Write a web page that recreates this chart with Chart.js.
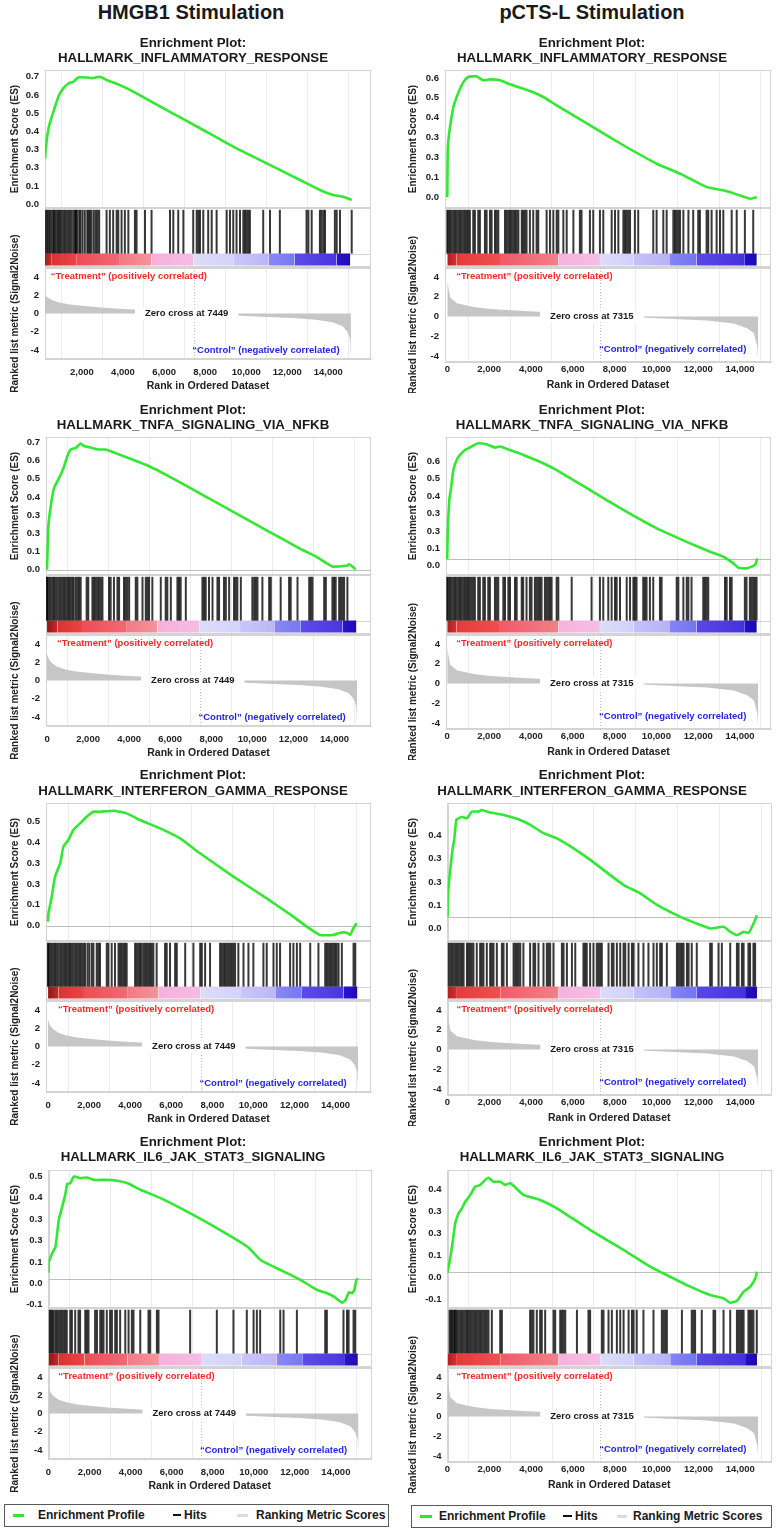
<!DOCTYPE html>
<html>
<head>
<meta charset="utf-8">
<title>GSEA enrichment plots</title>
<script src="https://cdn.jsdelivr.net/npm/chart.js@4.4.1/dist/chart.umd.min.js"></script>
<style>
  html,body{margin:0;padding:0;background:#fff;}
  #page{position:relative;width:782px;height:1530px;overflow:hidden;
        font-family:"Liberation Sans",Arial,sans-serif;color:#1a1a1a;}
  #page canvas{position:absolute;}
  .hdr{position:absolute;top:0;font-weight:bold;font-size:20px;line-height:24px;
       transform:translateX(-50%);white-space:nowrap;}
  .ttl{position:absolute;font-weight:bold;font-size:13.3px;line-height:15.6px;
       text-align:center;transform:translateX(-50%);white-space:nowrap;}
  .lg{position:absolute;height:21px;border:1px solid #5a5a5a;background:#fff;}
  .lg span{position:absolute;top:0;line-height:21px;font-weight:bold;font-size:12px;white-space:nowrap;}
  .lg i{position:absolute;top:9px;height:3px;}
</style>
</head>
<body>
<div id="page">
  <div class="lg" style="left:4px;top:1504px;width:383px;">
    <i style="left:8px;width:11px;background:#2ee82e"></i><span style="left:33px">Enrichment Profile</span>
    <i style="left:168px;width:8px;height:2px;background:#111"></i><span style="left:179px">Hits</span>
    <i style="left:232px;width:11px;background:#dcdcdc"></i><span style="left:251px">Ranking Metric Scores</span>
  </div>
  <div class="lg" style="left:411px;top:1505px;width:359px;">
    <i style="left:8px;width:12px;background:#2ee82e"></i><span style="left:27px">Enrichment Profile</span>
    <i style="left:151px;width:9px;height:2px;background:#111"></i><span style="left:163px">Hits</span>
    <i style="left:205px;width:10px;background:#dcdcdc"></i><span style="left:221px">Ranking Metric Scores</span>
  </div>
</div>
<script>
// ---------------- data ----------------
const columnNames = ['HMGB1 Stimulation', 'pCTS-L Stimulation'];
const geneSets = ['HALLMARK_INFLAMMATORY_RESPONSE', 'HALLMARK_TNFA_SIGNALING_VIA_NFKB',
                  'HALLMARK_INTERFERON_GAMMA_RESPONSE', 'HALLMARK_IL6_JAK_STAT3_SIGNALING'];
const zeroCross = [7449, 7315];

const xTicksFull = [0, 2000, 4000, 6000, 8000, 10000, 12000, 14000];
const xTicksNoZero = [2000, 4000, 6000, 8000, 10000, 12000, 14000];
const rankTicks = [-4, -2, 0, 2, 4];

// ES axis tick texts (bottom to top) as printed in the figure
const esTicksH = [
  ['0.0','0.1','0.3','0.3','0.4','0.5','0.6','0.7'],
  ['0.0','0.1','0.3','0.3','0.4','0.5','0.6','0.7'],
  ['0.0','0.1','0.3','0.3','0.4','0.5'],
  ['-0.1','0.0','0.1','0.3','0.3','0.4','0.5']
];
const esTicksP = [
  ['0.0','0.1','0.3','0.3','0.4','0.5','0.6'],
  ['0.0','0.1','0.3','0.3','0.4','0.5','0.6'],
  ['0.0','0.1','0.3','0.3','0.4'],
  ['-0.1','0.0','0.1','0.3','0.3','0.4']
];
const esTickStart = [[0, 0, 0, -0.1], [0, 0, 0, -0.1]];
const esTickShift = [[0, 0, 0, -0.019], [0, -0.037, -0.049, -0.023]];
const esRange = [
  [[-0.021, 0.737], [-0.030, 0.730], [-0.074, 0.590], [-0.134, 0.510]],
  [[-0.055, 0.640], [-0.090, 0.703], [-0.103, 0.491], [-0.162, 0.465]]
];
const xRange = [
  [[200, 16080], [-50, 15780], [-100, 15730], [0, 15710]],
  [[-110, 15480], [-60, 15480], [0, 15470], [0, 15470]]
];

// running enrichment score: [rank, ES]
const esH_inflam = [[200,0.25],[230,0.30],[360,0.41],[525,0.48],[690,0.535],[850,0.59],[1090,0.636],[1340,0.663],[1580,0.672],[1820,0.696],[2230,0.696],[2500,0.692],[2880,0.70],[3200,0.682],[3850,0.654],[4500,0.618],[6130,0.517],[7750,0.417],[9370,0.316],[11000,0.224],[12620,0.133],[13590,0.078],[14240,0.05],[14730,0.041],[15140,0.023]];
const esH_tnfa = [[0,0],[65,0.238],[180,0.348],[340,0.449],[500,0.486],[670,0.523],[830,0.569],[990,0.624],[1150,0.661],[1400,0.67],[1640,0.694],[1800,0.68],[2210,0.67],[2530,0.661],[2860,0.661],[3510,0.634],[4160,0.606],[4970,0.569],[5780,0.523],[7400,0.422],[9030,0.32],[10650,0.219],[12270,0.118],[13090,0.072],[13900,0.017],[14220,0.017],[14630,0.022],[14710,0.029],[14870,0.017],[15030,0.0]];
const esH_ifng = [[0,0.019],[20,0.059],[180,0.139],[340,0.236],[590,0.30],[750,0.38],[990,0.412],[1230,0.46],[1560,0.492],[1880,0.524],[2210,0.548],[2530,0.548],[3180,0.553],[3830,0.54],[4480,0.508],[5460,0.468],[6430,0.42],[7400,0.348],[9030,0.236],[10650,0.131],[11950,0.043],[12600,-0.005],[13250,-0.045],[13900,-0.045],[14220,-0.034],[14550,-0.034],[14710,-0.045],[14870,-0.013],[15030,0.011]];
const esH_il6 = [[0,0.03],[20,0.082],[180,0.121],[340,0.152],[500,0.277],[670,0.339],[830,0.402],[910,0.445],[1070,0.449],[1230,0.479],[1560,0.472],[1880,0.475],[2210,0.464],[2860,0.464],[3340,0.46],[3830,0.449],[4480,0.418],[5460,0.379],[6750,0.316],[8220,0.238],[9680,0.153],[10330,0.09],[11460,0.036],[12270,-0.003],[13090,-0.05],[13570,-0.065],[13900,-0.081],[14310,-0.109],[14470,-0.097],[14630,-0.061],[14790,-0.065],[14900,-0.05],[15000,-0.003],[15070,0.005]];
const esP_inflam = [[0,0],[20,0.235],[50,0.286],[130,0.353],[290,0.454],[450,0.504],[610,0.546],[770,0.58],[1000,0.605],[1400,0.608],[1720,0.588],[2040,0.593],[2520,0.588],[3000,0.568],[3960,0.534],[4590,0.504],[5230,0.462],[6830,0.361],[8420,0.261],[10020,0.168],[11130,0.118],[12410,0.05],[13200,0.034],[14000,0.008],[14480,-0.008],[14720,-0.003],[14800,0]];
const esP_tnfa = [[0,0],[20,0.149],[100,0.341],[210,0.437],[290,0.513],[450,0.571],[610,0.6],[850,0.628],[1160,0.648],[1480,0.667],[1880,0.661],[2280,0.642],[2520,0.648],[3000,0.628],[3640,0.6],[4430,0.561],[5230,0.513],[6830,0.398],[8420,0.284],[10020,0.178],[11610,0.092],[12560,0.044],[13200,0.015],[13680,-0.023],[13920,-0.048],[14320,-0.052],[14560,-0.042],[14720,-0.033],[14830,0.006]];
const esP_ifng = [[0,0],[30,0.102],[130,0.203],[260,0.303],[320,0.332],[420,0.418],[530,0.425],[690,0.432],[930,0.425],[1160,0.454],[1480,0.454],[1640,0.461],[2040,0.45],[2520,0.443],[3000,0.432],[3480,0.418],[3960,0.397],[4590,0.361],[5230,0.339],[6030,0.296],[6830,0.246],[8420,0.138],[9220,0.102],[10020,0.052],[11130,0.001],[12090,-0.034],[12560,-0.049],[13200,-0.042],[13520,-0.063],[13840,-0.078],[14160,-0.063],[14400,-0.068],[14640,-0.027],[14800,0.008]];
const esP_il6 = [[0,0],[130,0.064],[260,0.147],[370,0.223],[530,0.268],[690,0.291],[850,0.321],[1090,0.352],[1320,0.389],[1560,0.397],[1800,0.42],[1960,0.43],[2200,0.412],[2520,0.412],[2760,0.397],[3000,0.405],[3640,0.352],[4430,0.329],[5230,0.291],[6830,0.192],[8420,0.102],[9690,0.026],[10330,-0.005],[11610,-0.065],[12560,-0.103],[13200,-0.118],[13520,-0.138],[13840,-0.129],[14160,-0.088],[14480,-0.065],[14720,-0.027],[14800,0.003]];

// gene-set hit ranks
const hitsH_inflam = [240,310,370,440,520,600,650,720,800,860,930,1010,1090,1170,1250,1330,1410,1490,1580,1660,1710,1770,1870,1930,2030,2140,2260,2320,2390,2470,2580,2680,2760,2840,3200,3360,3520,3690,3770,3930,4090,4260,4580,4660,5070,5390,6290,6450,6690,6940,7420,7590,7670,7750,7910,8150,8320,8560,9050,9210,9370,9530,9700,9860,9940,10020,10100,10180,10830,11160,11640,12940,13030,13190,13590,13670,13760,13840,14320,14410,14570,15140];
const hitsH_tnfa = [0,20,100,180,260,340,420,500,590,670,750,830,910,990,1070,1150,1230,1300,1400,1480,1560,1640,1930,2010,2210,2290,2370,2450,2530,2620,2700,3020,3100,3260,3430,3510,3750,3830,3910,4000,4320,4400,4650,4810,4890,4970,5130,5540,5780,5860,6030,6350,6430,6510,6760,7570,7650,7730,7890,8060,8300,8380,8620,8710,8870,9110,9190,9270,9440,10000,10090,10170,10250,10490,10820,10900,11380,11790,11870,12200,12770,12850,12930,13500,13580,13900,13980,14060,14230,14310,14390,14470,14630];
const hitsH_ifng = [0,20,100,180,260,340,420,500,590,670,750,830,910,990,1070,1150,1230,1320,1400,1480,1560,1640,1720,1800,1920,2010,2130,2210,2370,2450,2530,2860,2940,3100,3260,3430,3510,3590,3670,3750,3830,4240,4320,4400,4480,4560,4650,4730,4810,4890,4970,5050,5130,5290,5700,5780,5940,6190,6270,6680,7080,7410,7490,7650,7890,8380,8460,8540,8620,8710,8790,8870,8950,9030,9110,9270,9520,9760,10000,10490,10650,10980,11140,11300,11790,11950,12120,12280,12770,13170,13500,13580,13660,13740,13820,13900,13980,14060,14150,14310,14880,14960];
const hitsH_il6 = [50,110,180,240,330,410,490,570,650,730,810,890,1060,1140,1300,1460,1540,1790,1870,1950,2270,2360,2520,2600,2680,2840,3000,3090,3250,3330,3490,3740,3900,4060,4140,4470,4870,4950,5280,5360,6900,8200,9010,9660,9990,10150,10310,11290,11450,12100,13480,13560,14370,14540,14620,14860,14940];
const hitsP_inflam = [0,50,130,210,290,370,450,530,610,690,770,850,930,1000,1080,1240,1320,1480,1560,1800,1880,2040,2120,2280,2360,2440,2760,2840,2920,3000,3080,3160,3240,3320,3400,3560,3630,3710,3790,3950,4110,4270,4350,4750,4910,5070,5230,5310,5550,5710,6030,6340,6420,6820,6980,7300,7460,7860,8020,8180,8420,8500,8580,8660,8740,8970,9130,9850,10010,10330,10490,10810,10890,10970,11050,11130,11290,11530,11760,12000,12080,12400,12480,12640,12880,13040,13200,13600,13840,14230,14630];
const hitsP_tnfa = [0,50,130,210,290,370,450,530,610,690,770,850,930,1000,1080,1160,1240,1320,1480,1560,1720,1800,1960,2040,2280,2360,2440,2680,2760,2920,3000,3240,3320,3560,3630,3790,3950,4030,4190,4270,4350,4430,4510,4670,4750,4830,4910,4990,5230,5310,5950,6900,7300,7460,7700,7860,8020,8100,8260,8580,8740,8900,8970,9050,9370,9450,9530,9690,9850,10170,10250,10970,11050,11290,11450,11530,11680,12240,12320,12400,12480,13280,13360,13520,13600,14230,14310,14470,14550,14630,14710,14790];
const hitsP_ifng = [50,130,210,290,370,450,530,610,690,770,930,1000,1080,1160,1240,1400,1560,1640,1720,1880,2040,2120,2200,2360,2600,2680,2840,3160,3240,3320,3400,3480,3630,3950,4110,4190,4350,4590,4750,4830,4910,5070,5470,5550,5710,5950,6110,6500,6580,6660,6820,6980,7140,7220,7300,7380,7700,7860,7940,8100,8260,8420,8500,8660,8820,8900,9130,9370,9610,9850,10010,10170,10250,10490,10970,11050,11130,11210,11290,11450,11530,11680,11920,12560,12640,12960,13120,13520,13840,13920,14080,14160,14390,14470,14630,14710];
const hitsP_il6 = [100,160,220,290,340,380,450,530,610,690,770,850,930,1000,1080,1160,1240,1320,1400,1480,1560,1640,1720,1800,1880,1960,2120,2520,2600,3950,4030,4110,4270,4430,4510,4670,5070,5150,5390,5470,5550,5630,6190,6740,6820,7380,7460,7700,7860,8100,8260,8420,8660,8820,8900,9050,9370,9850,10250,10330,10410,10490,11210,11680,11760,11840,12160,12720,12800,13200,13520,13840,13920,14000,14080,14160,14390,14470,14550,14630,14790];

// ranked list metric (Signal2Noise): [rank, value]
const metricHMGB1 = [[0,2.9],[100,2.3],[250,1.9],[500,1.5],[900,1.2],[1400,1.0],[2000,0.85],[2900,0.65],[3800,0.52],[4700,0.4],[5600,0.3],[6500,0.15],[7449,0],[8500,-0.12],[9700,-0.25],[11000,-0.38],[12250,-0.5],[13400,-0.7],[14200,-0.95],[14700,-1.4],[14930,-2.0],[15060,-2.8],[15100,-4.8]];
const metricPCTSL = [[0,3.6],[60,2.8],[144,1.9],[460,1.35],[1260,0.95],[2060,0.75],[3650,0.55],[4600,0.45],[6000,0.22],[7315,0],[8300,-0.05],[9300,-0.1],[10830,-0.25],[12420,-0.4],[13700,-0.7],[14340,-1.2],[14660,-1.7],[14820,-3.0],[14860,-4.3]];

// colour bar segment limits (ranks)
const stripBreaksH = [0, 500, 1750, 3850, 5380, 7430, 9400, 11100, 12360, 14400, 15070];
const stripBreaksP = [0, 450, 2520, 5310, 7300, 8900, 10650, 11920, 14230, 14800];

// ---------------- styles and layout ----------------
const FONT = '"Liberation Sans", Arial, sans-serif';
Chart.defaults.font.family = FONT;
Chart.defaults.color = '#222';

const stripFromH = ['#8e1616','#d83232','#ee4c56','#f27a84','#f6b0dc','#dcdcfa','#cac6f8','#8888f4','#5c4ce6','#2a14cc'];
const stripToH   = ['#c62a2a','#ea4444','#f06a74','#f4949a','#f5bce4','#d4d2fa','#bcb6f6','#7878f2','#4a36e0','#1c0cb4'];
const stripFromP = ['#b01e1e','#e63a3a','#f05a66','#f6b2dc','#dcdcfa','#c6c2f8','#8484f4','#5a48e4','#2410c8'];
const stripToP   = ['#d83030','#ee5050','#f28088','#f5bee4','#d2d0fa','#b8b2f6','#7474f0','#4432dc','#1a0ab0'];

const HIT_LO = 0.24, HIT_HI = 0.97, STRIP_LO = 0.04, STRIP_HI = 0.24;

const LAYOUT = [
  {left:0,   width:390, padRight:19, titleX:193, yTitlePad:9,  rankMin:-5,   rankMax:5,   rankWeight:91,
   tickPad:8, xHeight:35, height:367, treatAt:480, treatY:4.1, ctrlAt:14550, ctrlY:-4.0, zeroLabelAt:7100},
  {left:390, width:392, padRight:11, titleX:592, yTitlePad:17, rankMin:-4.6, rankMax:4.9, rankWeight:94,
   tickPad:2, xHeight:31, height:366, treatAt:430, treatY:4.1, ctrlAt:14300, ctrlY:-3.35, zeroLabelAt:6910}
];
const ROW_TOP = [27, 394, 760, 1127];
const TITLE_Y = [42.7, 409.3, 775, 1141.7];
const PLOT_LEFT = [[45, 46, 46, 48.5], [55, 56, 57.5, 57.5]];
const ZERO_LINE = [[false, true, true, true], [false, true, true, true]];

const esSets = [[esH_inflam, esH_tnfa, esH_ifng, esH_il6], [esP_inflam, esP_tnfa, esP_ifng, esP_il6]];
const hitSets = [[hitsH_inflam, hitsH_tnfa, hitsH_ifng, hitsH_il6], [hitsP_inflam, hitsP_tnfa, hitsP_ifng, hitsP_il6]];
const esTickSets = [esTicksH, esTicksP];
const metrics = [metricHMGB1, metricPCTSL];
const stripBreaks = [stripBreaksH, stripBreaksP];
const stripFrom = [stripFromH, stripFromP];
const stripTo = [stripToH, stripToP];

const pts = arr => arr.map(p => ({x: p[0], y: p[1]}));

function stripFill(a, b, c0, c1) {
  return (ctx) => {
    const ch = ctx.chart, xs = ch.scales.x;
    if (!ch.chartArea || !xs) return c0;
    const g = ch.ctx.createLinearGradient(xs.getPixelForValue(a), 0, xs.getPixelForValue(b), 0);
    g.addColorStop(0, c0); g.addColorStop(1, c1);
    return g;
  };
}

function hline(ctx, x0, x1, y) { ctx.beginPath(); ctx.moveTo(x0, y); ctx.lineTo(x1, y); ctx.stroke(); }

const gseaDecor = {
  id: 'gseaDecor',
  beforeDatasetsDraw(chart, args, o) {
    const {ctx, chartArea: a, scales: {x, yES, yHits, yRank}} = chart;
    ctx.save();
    ctx.strokeStyle = '#d4d4d4'; ctx.lineWidth = 1;
    for (const s of [yES, yHits, yRank]) {
      ctx.strokeRect(Math.round(a.left) + 0.5, Math.round(s.top) + 0.5,
                     Math.round(a.right - a.left) - 1, Math.round(s.bottom - s.top) - 1);
    }
    for (const v of [STRIP_LO, STRIP_HI]) hline(ctx, a.left, a.right, Math.round(yHits.getPixelForValue(v)) + 0.5);
    if (o.zeroLine) {
      ctx.strokeStyle = '#bdbdbd';
      hline(ctx, a.left, a.right, Math.round(yES.getPixelForValue(0)) + 0.5);
    }
    const xz = Math.round(x.getPixelForValue(o.zeroCross)) + 0.5;
    ctx.setLineDash([1, 2]); ctx.strokeStyle = '#bcbcbc';
    ctx.beginPath(); ctx.moveTo(xz, yRank.top); ctx.lineTo(xz, yRank.bottom); ctx.stroke();
    ctx.restore();
  },
  afterDatasetsDraw(chart, args, o) {
    const {ctx, scales: {x, yRank}} = chart;
    ctx.save();
    ctx.font = 'bold 9.5px ' + FONT;
    ctx.textBaseline = 'middle';
    const label = 'Zero cross at ' + o.zeroCross;
    const cx = x.getPixelForValue(o.zeroLabelAt), cy = yRank.getPixelForValue(0);
    const w = ctx.measureText(label).width;
    ctx.fillStyle = '#fff'; ctx.fillRect(cx - w / 2 - 10, cy - 6, w + 20, 12);
    ctx.fillStyle = '#1a1a1a'; ctx.textAlign = 'center'; ctx.fillText(label, cx, cy);
    ctx.textAlign = 'left'; ctx.fillStyle = '#f42a2a';
    ctx.fillText('\u201CTreatment\u201D (positively correlated)', x.getPixelForValue(o.treatAt), yRank.getPixelForValue(o.treatY));
    ctx.textAlign = 'right'; ctx.fillStyle = '#2424e6';
    ctx.fillText('\u201CControl\u201D (negatively correlated)', x.getPixelForValue(o.ctrlAt), yRank.getPixelForValue(o.ctrlY));
    ctx.restore();
  }
};

const page = document.getElementById('page');

function buildPanel(col, row) {
  const L = LAYOUT[col];
  const labels = esTickSets[col][row];
  const tStart = esTickStart[col][row] + esTickShift[col][row];
  const yw = PLOT_LEFT[col][row];
  const fixW = s => { s.width = yw; };

  const cv = document.createElement('canvas');
  cv.width = L.width; cv.height = L.height;
  cv.style.left = L.left + 'px'; cv.style.top = ROW_TOP[row] + 'px';
  cv.style.width = L.width + 'px'; cv.style.height = L.height + 'px';
  page.appendChild(cv);

  const brk = stripBreaks[col];
  const strip = brk.slice(0, -1).map((b, i) => ({
    type: 'line', data: [{x: b, y: STRIP_LO}, {x: brk[i + 1], y: STRIP_LO}], yAxisID: 'yHits',
    fill: {value: STRIP_HI}, backgroundColor: stripFill(b, brk[i + 1], stripFrom[col][i], stripTo[col][i]),
    borderWidth: 0, pointRadius: 0, order: 2
  }));

  new Chart(cv, {
    type: 'line',
    data: {datasets: [
      {type: 'line', label: 'Enrichment Profile', data: pts(esSets[col][row]), yAxisID: 'yES',
       borderColor: '#33e833', borderWidth: 2.6, pointRadius: 0, tension: 0.15, order: 0},
      {type: 'bar', label: 'Hits', data: hitSets[col][row].map(r => ({x: r, y: [HIT_LO, HIT_HI]})), yAxisID: 'yHits',
       backgroundColor: 'rgba(0,0,0,0.78)', barThickness: 2, borderWidth: 0, inflateAmount: 0, order: 1},
      ...strip,
      {type: 'line', label: 'Ranking Metric Scores', data: pts(metrics[col]), yAxisID: 'yRank',
       fill: 'origin', backgroundColor: '#c6c6c6', borderWidth: 0, pointRadius: 0, order: 3}
    ]},
    options: {
      responsive: false, animation: false, events: [],
      layout: {padding: {top: 43, left: 0, right: L.padRight, bottom: 0}},
      plugins: {
        legend: {display: false}, tooltip: {enabled: false}, title: {display: false},
        gseaDecor: {zeroCross: zeroCross[col], zeroLine: ZERO_LINE[col][row], zeroLabelAt: L.zeroLabelAt,
                    treatAt: L.treatAt, treatY: L.treatY, ctrlAt: L.ctrlAt, ctrlY: L.ctrlY}
      },
      scales: {
        x: {type: 'linear', position: 'bottom', offset: false,
            min: xRange[col][row][0], max: xRange[col][row][1],
            afterBuildTicks: s => { s.ticks = (col === 0 && row === 0 ? xTicksNoZero : xTicksFull).map(v => ({value: v})); },
            afterFit: s => { s.height = L.xHeight; },
            ticks: {font: {size: 9.5, weight: 'bold'}, color: '#222', padding: L.tickPad, autoSkip: false, maxRotation: 0,
                    callback: v => v.toLocaleString('en-US')},
            grid: {color: '#ececec', drawTicks: false},
            border: {color: '#d4d4d4'},
            title: {display: true, text: 'Rank in Ordered Dataset', font: {size: 10.5, weight: 'bold'}, color: '#222',
                    padding: {top: 0, bottom: 2}}},
        yRank: {type: 'linear', position: 'left', stack: 'gsea', stackWeight: L.rankWeight,
                min: L.rankMin, max: L.rankMax,
                afterBuildTicks: s => { s.ticks = rankTicks.map(v => ({value: v})); },
                afterFit: fixW,
                ticks: {font: {size: 9.5, weight: 'bold'}, color: '#222', padding: 6, autoSkip: false, callback: v => String(v)},
                grid: {display: false, drawTicks: false},
                border: {color: '#d4d4d4'},
                title: {display: true, text: 'Ranked list metric (Signal2Noise)', font: {size: 10, weight: 'bold'}, color: '#222',
                        padding: {top: L.yTitlePad, bottom: 0}}},
        yHits: {type: 'linear', position: 'left', stack: 'gsea', stackWeight: 60, min: 0, max: 1,
                afterBuildTicks: s => { s.ticks = []; },
                afterFit: fixW,
                ticks: {display: false}, grid: {display: false, drawTicks: false},
                border: {color: '#d4d4d4'}},
        yES: {type: 'linear', position: 'left', stack: 'gsea', stackWeight: 138,
              min: esRange[col][row][0], max: esRange[col][row][1],
              afterBuildTicks: s => { s.ticks = labels.map((t, i) => ({value: +(tStart + i * 0.1).toFixed(4)})); },
              afterFit: fixW,
              ticks: {font: {size: 9.5, weight: 'bold'}, color: '#222', padding: 6, autoSkip: false,
                      callback: (v, i) => labels[i]},
              grid: {display: false, drawTicks: false},
              border: {color: '#d4d4d4'},
              title: {display: true, text: 'Enrichment Score (ES)', font: {size: 10, weight: 'bold'}, color: '#222',
                      padding: {top: L.yTitlePad, bottom: 0}}}
      }
    },
    plugins: [gseaDecor]
  });

  const t = document.createElement('div');
  t.className = 'ttl';
  t.style.left = L.titleX + 'px';
  t.style.top = (TITLE_Y[row] - 7.8) + 'px';
  t.innerHTML = 'Enrichment Plot:<br>' + geneSets[row];
  page.appendChild(t);
}

[0, 1].forEach(col => {
  const h = document.createElement('div');
  h.className = 'hdr';
  h.style.left = (col === 0 ? 191 : 592) + 'px';
  h.textContent = columnNames[col];
  page.appendChild(h);
  [0, 1, 2, 3].forEach(row => buildPanel(col, row));
});
</script>
</body>
</html>
